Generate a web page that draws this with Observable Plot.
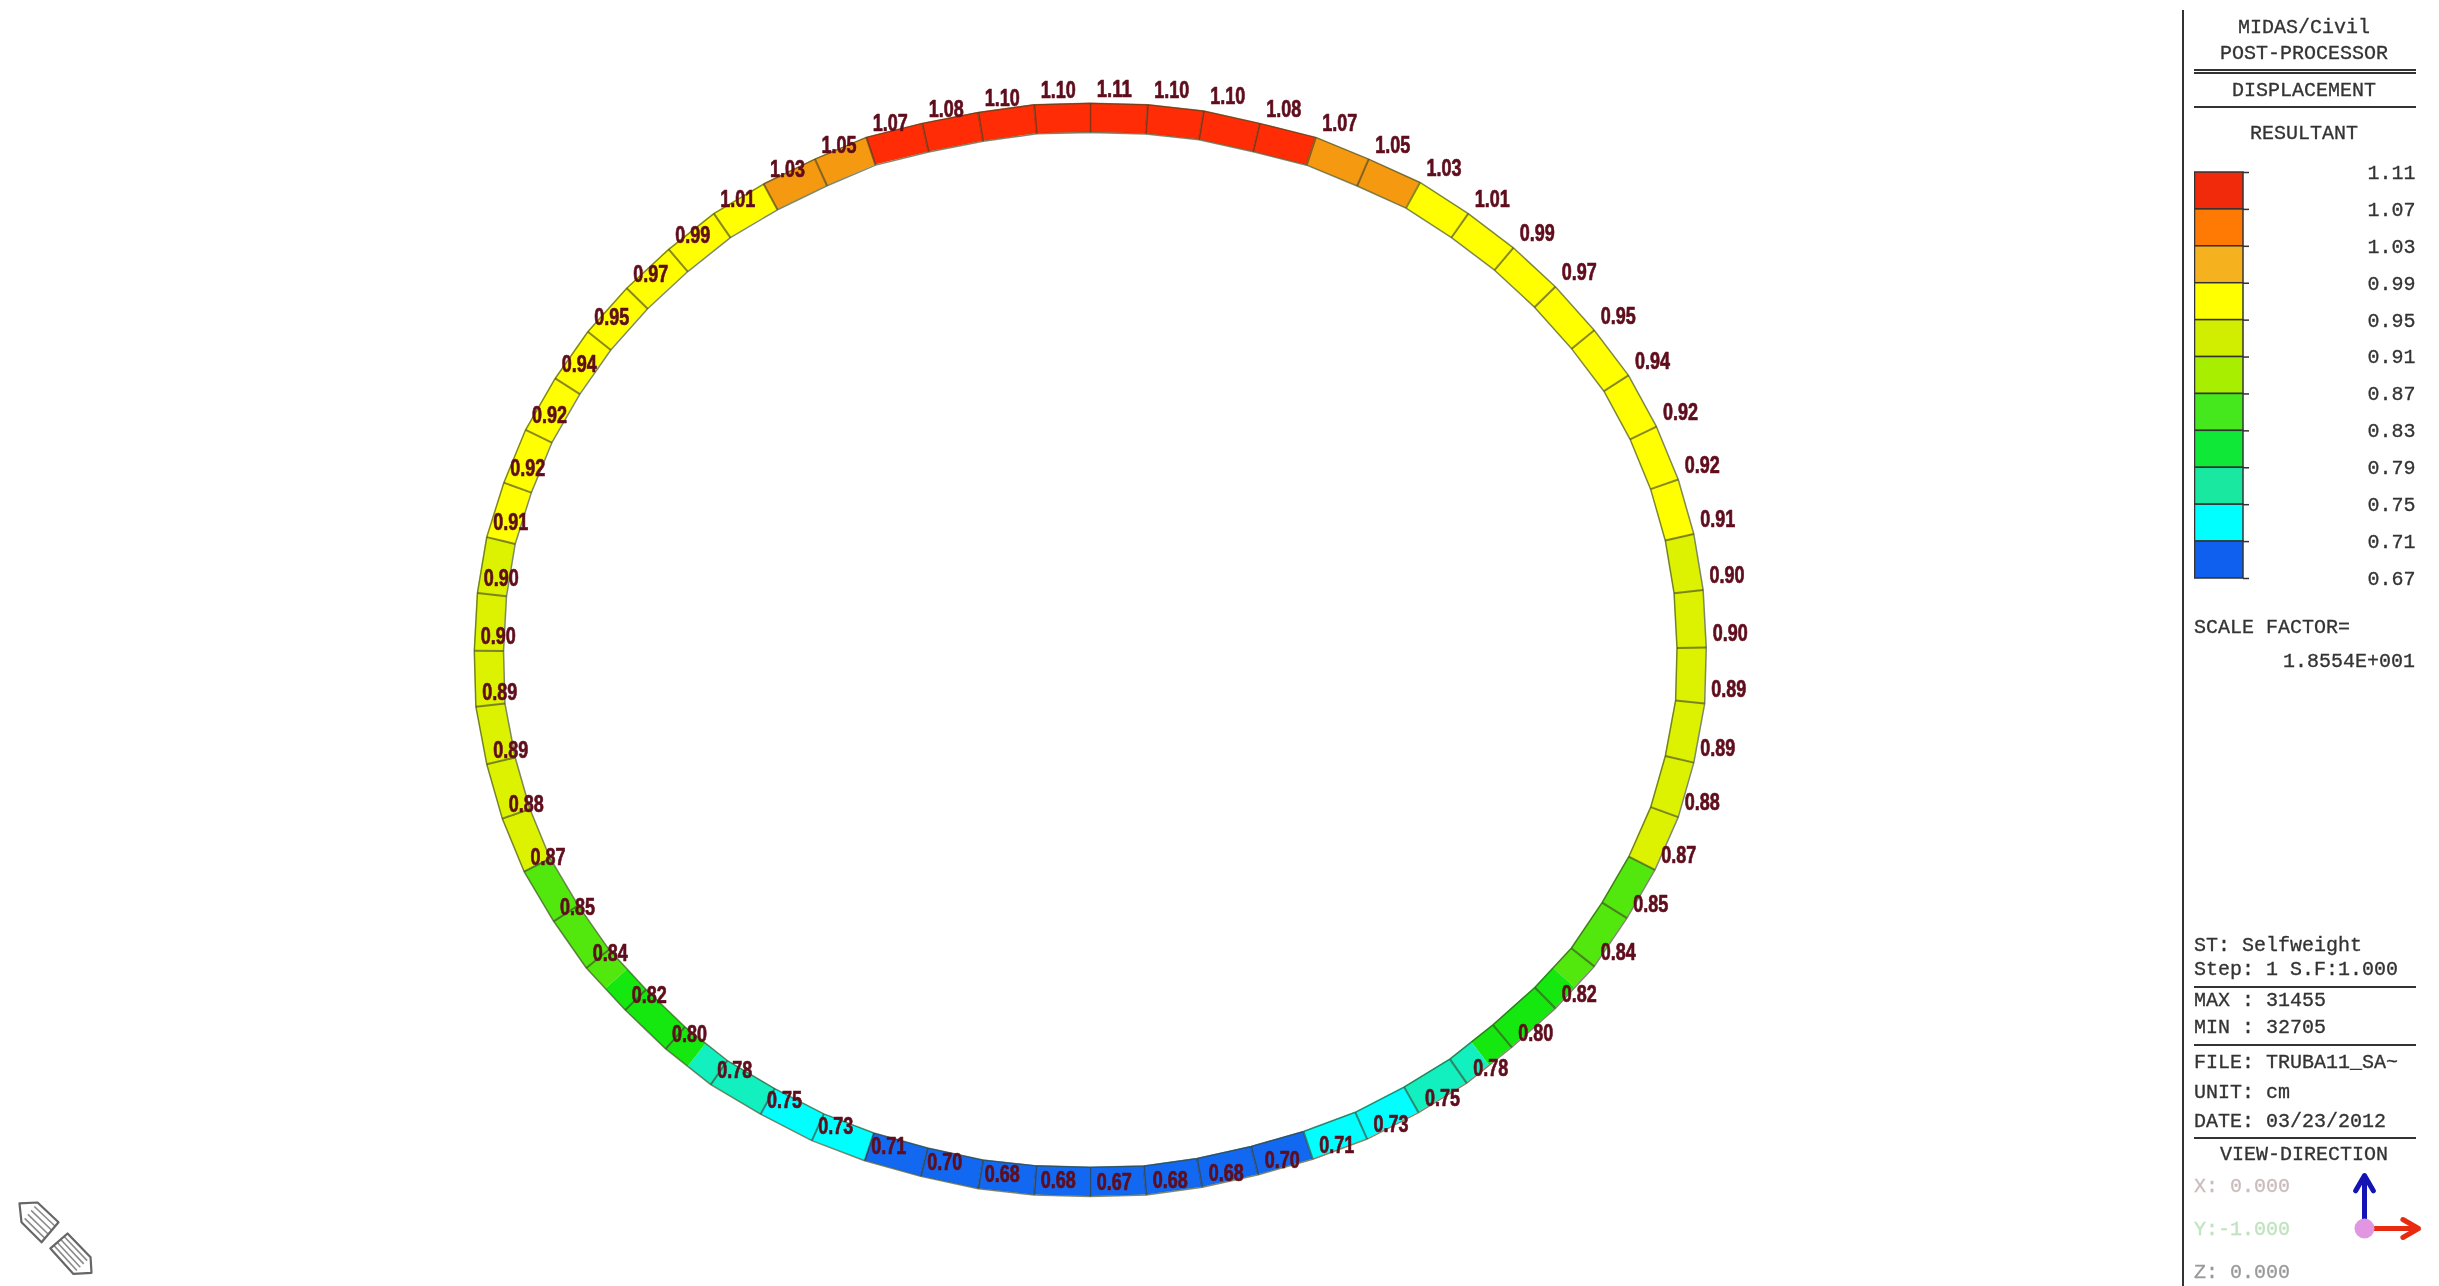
<!DOCTYPE html>
<html>
<head>
<meta charset="utf-8">
<script src="https://cdn.jsdelivr.net/npm/d3@7"></script>
<script src="https://cdn.jsdelivr.net/npm/@observablehq/plot@0.6"></script>
<style>
  html, body { margin: 0; padding: 0; background: #fff; }
  #root { position: relative; width: 2439px; height: 1286px; overflow: hidden; background: #fff; filter: blur(0.7px); }
  #root > svg, #root > figure { position: absolute; margin: 0; }
  .t { position: absolute; font: 20px/24px "Liberation Mono", monospace; color: #333; white-space: pre; transform: translateY(-50%); -webkit-text-stroke: 0.3px currentColor; }
  .c { transform: translate(-50%, -50%); }
  .r { transform: translate(-100%, -50%); }
  .h { position: absolute; background: #333; height: 2px; left: 2194px; width: 222px; }
  .v { position: absolute; background: #333; }
</style>
</head>
<body>
<div id="root"></div>
<script>
// Displacement read at each of the 64 ring nodes, clockwise from the top.
const nodeValues = [1.11,1.10,1.10,1.08,1.07,1.05,1.03,1.01,0.99,0.97,0.95,0.94,0.92,0.92,0.91,0.90,
  0.90,0.89,0.89,0.88,0.87,0.85,0.84,0.82,0.80,0.78,0.75,0.73,0.71,0.70,0.68,0.68,
  0.67,0.68,0.68,0.70,0.71,0.73,0.75,0.78,0.80,0.82,0.84,0.85,0.87,0.88,0.89,0.89,
  0.90,0.90,0.91,0.92,0.92,0.94,0.95,0.97,0.99,1.01,1.03,1.05,1.07,1.08,1.10,1.10];
// Model position of each node's label (deformed shape).
const labelX = [716,753,789,825,861,895,928,959,988,1015,1040,1062,1080,1094,1104,1110,
  1112,1111,1104,1094,1079,1061,1040,1015,987,958,927,894,859,824,788,752,
  716,680,644,607,571,537,504,472,443,417,392,371,352,338,328,321,
  320,322,328,339,353,372,393,418,445,474,506,539,572,608,644,680];
const labelY = [57,58,62,70,79,93,108,128,150,175,203,232,265,299,334,370,
  407,443,481,516,550,581,612,639,664,687,706,723,736,746,754,759,
  760,759,755,747,737,724,707,688,665,640,613,583,551,517,482,445,
  409,372,336,301,267,234,204,176,151,128,109,93,79,70,63,58];
// Contour bands.
const thresholds = [0.71,0.75,0.79,0.83,0.87,0.91,0.95,0.99,1.03,1.07];
const ringColors = ["#1268f0","#00ffff","#12f0c0","#14e80e","#52e80e","#dcf200","#ffff00","#ffff00","#ffff00","#f59a10","#ff2c05"];
const legendValues = [1.11,1.07,1.03,0.99,0.95,0.91,0.87,0.83,0.79,0.75,0.71,0.67];
const legendColors = ["#f02a0a","#ff7a05","#f5b21e","#ffff00","#d2ee00","#a8ee00","#45e81c","#10e838","#18e8a0","#00ffff","#1060f0"];
// Orientation icon.
const pencilA = [[12.2,773.4],[23.8,772.8],[37.3,785.5],[26.4,798.4],[13.5,785.5],[12.2,773.4]];
const pencilB = [[32.1,802.3],[43.1,792.7],[57.9,808],[58.5,818],[46.9,818.7],[32.1,802.3]];
// Panel text.
const panelCentered = [["MIDAS/Civil",28],["POST-PROCESSOR",54],["DISPLACEMENT",91],["RESULTANT",134],["VIEW-DIRECTION",1155]];
const panelLeft = [["SCALE FACTOR=",628,"#333"],["ST: Selfweight",946,"#333"],["Step: 1 S.F:1.000",970,"#333"],
  ["MAX : 31455",1001,"#333"],["MIN : 32705",1028,"#333"],["FILE: TRUBA11_SA~",1063,"#333"],
  ["UNIT: cm",1093,"#333"],["DATE: 03/23/2012",1122,"#333"],
  ["X: 0.000",1187,"#cbbcbc"],["Y:-1.000",1230,"#bfe3bf"],["Z: 0.000",1273,"#9a9a9a"]];
const panelRules = [69.5,72.5,107,987,1045,1138];

const n = nodeValues.length;
const outer = labelX.map((x, i) => ({x: x - 15.4, y: labelY[i] + 9, v: nodeValues[i], label: nodeValues[i].toFixed(2), lx: x, ly: labelY[i]}));
const ringWidth = 18.8;
outer.forEach((p, i) => {
  const a = outer[(i + n - 1) % n], b = outer[(i + 1) % n];
  const tx = b.x - a.x, ty = b.y - a.y, l = Math.hypot(tx, ty);
  p.ix = p.x - ty / l * ringWidth;   // inward normal for clockwise travel
  p.iy = p.y + tx / l * ringWidth;
});

// Contour pieces of each cell: a cell is cut where the value crosses a threshold.
const pieces = [];
outer.forEach((p, i) => {
  const q = outer[(i + 1) % n];
  const lo = Math.min(p.v, q.v), hi = Math.max(p.v, q.v);
  const cuts = [0, ...thresholds.filter(t => t > lo + 1e-6 && t < hi - 1e-6).map(t => (t - p.v) / (q.v - p.v)).sort(d3.ascending), 1];
  for (let k = 0; k < cuts.length - 1; k++) {
    const mean = p.v + (q.v - p.v) * (cuts[k] + cuts[k + 1]) / 2;
    const id = i + "-" + k;
    for (const t of [cuts[k], cuts[k + 1]]) {
      pieces.push({id, mean,
        x1: p.x + (q.x - p.x) * t, y1: p.y + (q.y - p.y) * t,
        x2: p.ix + (q.ix - p.ix) * t, y2: p.iy + (q.iy - p.iy) * t});
    }
  }
});

const stripes = [];
for (const [A, B, C, D] of [[pencilA[1], pencilA[4], pencilA[2], pencilA[3]], [pencilB[1], pencilB[0], pencilB[2], pencilB[4]]]) {
  for (const f of [0.2, 0.4, 0.6, 0.8]) {
    stripes.push({x1: A[0] + (B[0] - A[0]) * f, y1: A[1] + (B[1] - A[1]) * f, x2: C[0] + (D[0] - C[0]) * f, y2: C[1] + (D[1] - C[1]) * f});
  }
}

const closed = a => [...a, a[0]];
const main = Plot.plot({
  width: 2439, height: 1286, margin: 0, axis: null,
  x: {domain: [0, 1568], range: [0, 2439]},
  y: {domain: [826.8, 0], range: [1286, 0]},
  color: {type: "threshold", domain: thresholds, range: ringColors},
  style: {background: "transparent"},
  marks: [
    Plot.area(pieces, {x1: "x1", y1: "y1", x2: "x2", y2: "y2", z: "id", fill: "mean", curve: "linear"}),
    Plot.link(outer, {x1: "x", y1: "y", x2: "ix", y2: "iy", stroke: "#3a3a20", strokeOpacity: 0.6, strokeWidth: 2}),
    Plot.line(closed(outer), {x: "x", y: "y", stroke: "#3a4a20", strokeOpacity: 0.65, strokeWidth: 1.5}),
    Plot.line(closed(outer), {x: "ix", y: "iy", stroke: "#3a4a20", strokeOpacity: 0.65, strokeWidth: 1.5}),
    Plot.text(outer, {x: "lx", y: "ly", text: "label", fill: "#5f0d1c", stroke: "#5f0d1c", strokeWidth: 0.7, className: "node-label", fontFamily: "'Liberation Sans', sans-serif", fontWeight: "bold", fontSize: 23, textAnchor: "middle"}),
    Plot.link(stripes, {x1: "x1", y1: "y1", x2: "x2", y2: "y2", stroke: "#8a8a8a", strokeWidth: 1.6}),
    Plot.line(pencilA, {x: d => d[0], y: d => d[1], stroke: "#666", strokeWidth: 2.2}),
    Plot.line(pencilB, {x: d => d[0], y: d => d[1], stroke: "#666", strokeWidth: 2.2})
  ]
});
main.querySelectorAll(".node-label text").forEach(t => {
  t.setAttribute("textLength", 35);
  t.setAttribute("lengthAdjust", "spacingAndGlyphs");
});

const bands = legendValues.slice(0, -1).map((v, i) => ({top: v, bottom: legendValues[i + 1], color: legendColors[i]}));
const legend = Plot.plot({
  width: 230, height: 460, margin: 0, axis: null,
  x: {domain: [0, 230], range: [0, 230]},
  y: {domain: [1.11, 0.67], range: [22, 428]},
  marks: [
    Plot.rect(bands, {x1: 0.5, x2: 49, y1: "top", y2: "bottom", fill: d => d.color, stroke: "#333", strokeWidth: 1.5}),
    Plot.ruleY(legendValues, {x1: 49, x2: 55, stroke: "#333", strokeWidth: 1.5}),
    Plot.text(legendValues, {x: 221, y: d => d, text: d => d.toFixed(2), textAnchor: "end", fontFamily: "'Liberation Mono', monospace", fontSize: 20, fill: "#333", stroke: "#333", strokeWidth: 0.3})
  ]
});

const axisArrows = [{x1: 0, y1: 0, x2: 0, y2: 1, c: "#1414b4"}, {x1: 0, y1: 0, x2: 1, y2: 0, c: "#e82a10"}];
const triad = Plot.plot({
  width: 90, height: 90, margin: 0, axis: null,
  x: {domain: [0, 1], range: [22, 76]},
  y: {domain: [0, 1], range: [68, 15]},
  marks: [
    Plot.arrow(axisArrows, {x1: "x1", y1: "y1", x2: "x2", y2: "y2", stroke: "c", strokeWidth: 5, headLength: 7, insetStart: 9}),
    Plot.dot([{x: 0, y: 0}], {x: "x", y: "y", r: 10, fill: "#e296e2"})
  ]
});

const root = document.getElementById("root");
main.style.left = "0"; main.style.top = "0";
legend.style.left = "2194px"; legend.style.top = "150px";
triad.style.left = "2342px"; triad.style.top = "1160px";
root.append(main, legend, triad);

function addText(text, x, y, cls, color) {
  const d = document.createElement("div");
  d.className = "t " + cls;
  d.textContent = text;
  d.style.left = x + "px"; d.style.top = y + "px";
  if (color) d.style.color = color;
  root.append(d);
}
panelCentered.forEach(([s, y]) => addText(s, 2304, y, "c"));
panelLeft.forEach(([s, y, c]) => addText(s, 2194, y, "", c));
addText("1.8554E+001", 2415, 662, "r");
panelRules.forEach(y => {
  const h = document.createElement("div");
  h.className = "h"; h.style.top = (y - 1) + "px";
  root.append(h);
});
const v = document.createElement("div");
v.className = "v";
v.style.cssText = "left:2181.5px;top:10px;width:2.5px;height:1276px;";
root.append(v);
</script>
</body>
</html>
